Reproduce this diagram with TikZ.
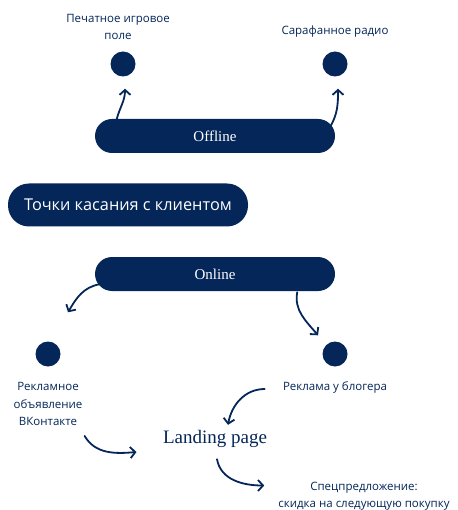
\documentclass[tikz,border=0pt]{standalone}
\usepackage{fontspec}
\setmainfont{Liberation Serif}
\setsansfont{Open Sans}
\usetikzlibrary{arrows.meta}
\definecolor{navy}{RGB}{4,38,88}
\tikzset{
  pill/.style={fill=navy,text=white,rounded corners=17pt,minimum width=240pt,minimum height=34pt,inner sep=0pt},
  dot/.style={circle,fill=navy,minimum size=25pt,inner sep=0pt},
  lbl/.style={text=navy,font=\sffamily\fontsize{11.5}{17.5}\selectfont,align=center,inner sep=0pt},
  arr/.style={navy,line width=1.8pt,line cap=round,-{Straight Barb[length=5pt,width=11pt,line width=1.8pt]}}
}
\begin{document}
\begin{tikzpicture}[x=1pt,y=-1pt]
\useasboundingbox (0,0) rectangle (457,510);
\node[lbl] (pole) at (118,27) {Печатное игровое\\поле};
\node[lbl] (radio) at (335,32) {Сарафанное радио};
\node[dot] (d1) at (123,64) {};
\node[dot] (d2) at (335,64) {};
\node[pill,font=\fontsize{15}{18}\selectfont] (offline) at (215,136) {Offline};
\node[pill,minimum height=43pt,rounded corners=21pt,font=\sffamily\fontsize{16.3}{19}\selectfont] (tochki) at (128,205) {Точки касания с клиентом};
\node[pill,font=\fontsize{15}{18}\selectfont] (online) at (215,274) {Online};
\node[dot] (d3) at (48,354) {};
\node[dot] (d4) at (335,354) {};
\node[lbl] (vk) at (48,404) {Рекламное\\объявление\\ВКонтакте};
\node[lbl] (blog) at (335,387) {Реклама у блогера};
\node[text=navy,font=\fontsize{19}{22}\selectfont] (land) at (215,439) {Landing page};
\node[lbl] (spec) at (364,496) {Спецпредложение:\\скидка на следующую покупку};
% offline
\draw[arr] ([xshift=22pt]offline.north west) to[out=75,in=-90] ([xshift=2pt,yshift=-12pt]d1.south);
\draw[arr] ([xshift=-5pt,yshift=-8pt]offline.north east) to[out=60,in=-90] ([xshift=3pt,yshift=-12pt]d2.south);
% online
\draw[arr] ([xshift=5pt,yshift=7pt]online.south west) to[out=190,in=60] ([xshift=20pt,yshift=29pt]d3.north);
\draw[arr] ([xshift=-38pt,yshift=-1pt]online.south east) to[out=-100,in=130] ([xshift=-17pt,yshift=6pt]d4.north);
% landing page
\draw[arr] ([xshift=-18pt,yshift=-2pt]blog.west) to[out=180,in=80] ([xshift=13pt,yshift=2pt]land.north);
\draw[arr] ([xshift=2pt,yshift=-10pt]vk.south east) to[out=-60,in=185] ([xshift=-23pt,yshift=-13pt]land.west);
\draw[arr] ([xshift=2pt,yshift=-8pt]land.south) to[out=-80,in=180] ([xshift=-14pt,yshift=-4pt]spec.north west);
\end{tikzpicture}
\end{document}
